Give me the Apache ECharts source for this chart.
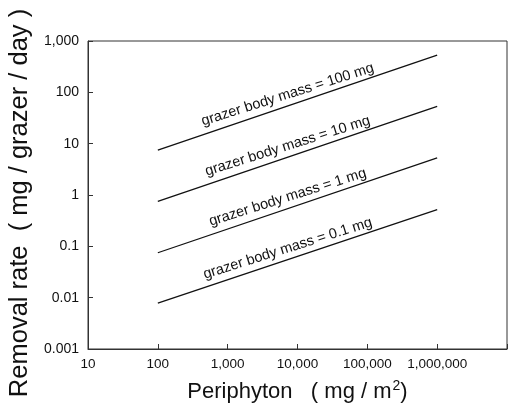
<!DOCTYPE html>
<html>
<head>
<meta charset="utf-8">
<script src="https://cdn.jsdelivr.net/npm/echarts@6/dist/echarts.min.js"></script>
<style>
  html,body{margin:0;padding:0;background:#fff;}
  #chart{width:512px;height:406px;}
</style>
</head>
<body>
<div id="chart"></div>
<script>
(function(){
  // periphyton (mg/m2) at the two ends of each line
  const xEnds = [100, 1000000];
  // removal rate (mg/grazer/day) at those ends, one row per body mass
  const mass100 = [7.5, 530];
  const mass10 = [0.75, 53];
  const mass1 = [0.075, 5.3];
  const mass01 = [0.0078, 0.52];
  const lineNames = ['grazer body mass = 100 mg','grazer body mass = 10 mg','grazer body mass = 1 mg','grazer body mass = 0.1 mg'];
  const xTickLabels = ['10','100','1,000','10,000','100,000','1,000,000',''];
  const yTickLabels = ['0.001','0.01','0.1','1','10','100','1,000'];

  const FONT = '"Liberation Sans", Arial, sans-serif';
  const ink = '#111';

  function lineSeries(name, ys){
    const pts = xEnds.map((x,i)=>[x, ys[i]]);
    // label sits at the log-midpoint of the line
    const mx = Math.sqrt(xEnds[0]*xEnds[1]);
    const my = Math.sqrt(ys[0]*ys[1]);
    return {
      type:'line', name, data:pts, showSymbol:false, silent:true,
      lineStyle:{color:ink,width:1.3}, animation:false,
      markPoint:{
        symbol:'circle', symbolSize:0, silent:true, animation:false,
        data:[{coord:[mx,my]}],
        label:{show:true, formatter:name, position:'inside', align:'center', verticalAlign:'bottom',
          rotate:17.5, offset:[-7,-3], color:ink, fontSize:14.5, fontFamily:FONT}
      }
    };
  }

  const chart = echarts.init(document.getElementById('chart'));
  chart.setOption({
    animation:false,
    grid:{left:88,top:41,right:5,bottom:57,outerBoundsMode:'none',containLabel:false,
      show:true,borderColor:'#333',borderWidth:1},
    xAxis:{type:'log',logBase:10,min:10,max:10000000,
      name:'Periphyton   ( mg / m{sup|2})',nameLocation:'middle',nameGap:30,
      nameTextStyle:{color:ink,fontSize:22,fontFamily:FONT,
        rich:{sup:{fontSize:14,verticalAlign:'top',padding:[0,0,11,1],color:ink,fontFamily:FONT}}},
      axisLine:{lineStyle:{color:'#333'}},
      axisTick:{inside:true,length:5,lineStyle:{color:'#333'}},
      minorTick:{show:false},splitLine:{show:false},
      axisLabel:{color:ink,fontSize:13.5,fontFamily:FONT,margin:8,
        formatter:v=>xTickLabels[Math.round(Math.log10(v))-1]}
    },
    yAxis:{type:'log',logBase:10,min:0.001,max:1000,
      name:'Removal rate  ( mg / grazer / day )',nameLocation:'middle',nameGap:55,
      nameTextStyle:{color:ink,fontSize:25.5,fontFamily:FONT,padding:[0,16,0,0]},
      axisLine:{lineStyle:{color:'#333'}},
      axisTick:{inside:true,length:5,lineStyle:{color:'#333'}},
      minorTick:{show:false},splitLine:{show:false},
      axisLabel:{color:ink,fontSize:14,fontFamily:FONT,margin:9,
        formatter:v=>yTickLabels[Math.round(Math.log10(v))+3]}
    },
    series:[
      lineSeries(lineNames[0], mass100),
      lineSeries(lineNames[1], mass10),
      lineSeries(lineNames[2], mass1),
      lineSeries(lineNames[3], mass01)
    ]
  });
})();
</script>
</body>
</html>
